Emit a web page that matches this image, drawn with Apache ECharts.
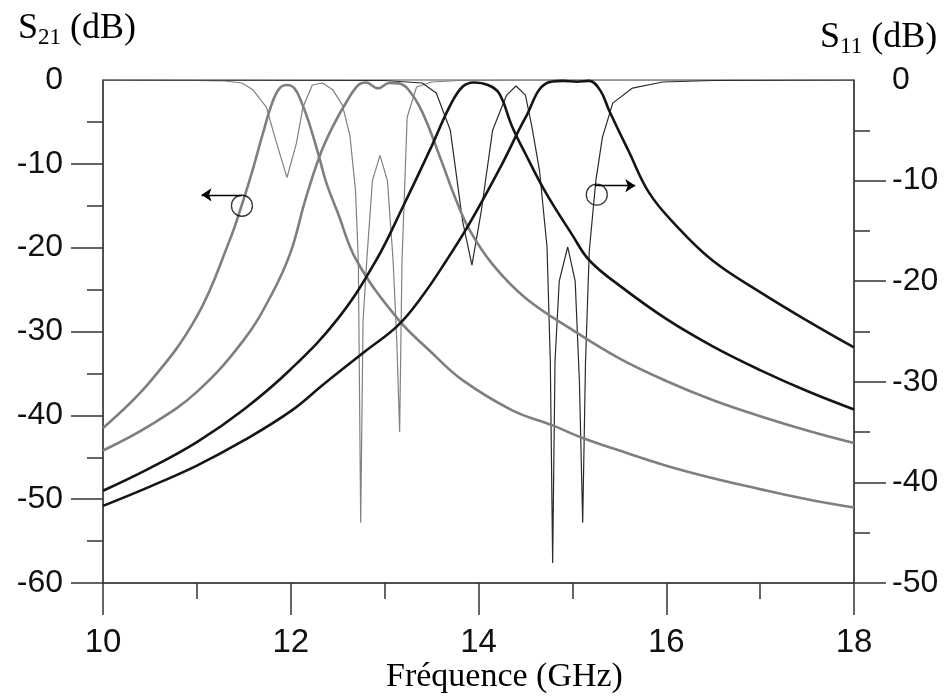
<!DOCTYPE html>
<html>
<head>
<meta charset="utf-8">
<title>S21 / S11</title>
<script src="https://cdn.jsdelivr.net/npm/echarts@6/dist/echarts.min.js"></script>
<style>
  html, body { margin: 0; padding: 0; background: #fff; }
  #chart { width: 946px; height: 698px; }
</style>
</head>
<body>
<div id="chart"></div>
<script>
// canal 1 (gris) - S21
const ch1Freq = [10, 10.5, 11, 11.35, 11.49, 11.6, 11.7, 11.8, 11.88, 11.96, 12.04, 12.12, 12.2, 12.31, 12.38, 12.5, 12.7, 13.14, 13.5, 13.83, 14.36, 14.79, 15.11, 15.5, 16, 16.5, 17, 17.5, 18];
const ch1Db = [-41.5, -36, -28.2, -19.1, -14.5, -10.5, -6.5, -2.8, -1.0, -0.6, -1.0, -2.8, -5.3, -9.5, -12.3, -15.8, -21.5, -28.5, -32.5, -35.8, -39.4, -41.2, -42.7, -44.2, -46, -47.5, -48.8, -50, -51];

// canal 2 (gris) - S21
const ch2Freq = [10, 10.5, 11, 11.5, 11.8, 12.0, 12.15, 12.31, 12.45, 12.6, 12.72, 12.8, 12.93, 13.05, 13.15, 13.25, 13.4, 13.6, 13.75, 13.9, 14.15, 14.5, 15, 15.5, 16, 16.5, 17, 17.5, 18];
const ch2Db = [-44.2, -41.2, -37.2, -31, -25.5, -20.5, -14.5, -9, -5.5, -2.5, -0.6, -0.3, -1.0, -0.35, -0.4, -1.1, -3.8, -9.5, -14, -17.8, -22, -26, -29.8, -33.2, -35.9, -38.2, -40.1, -41.8, -43.3];

// canal 3 (noir) - S21
const ch3Freq = [10, 10.5, 11, 11.5, 12, 12.5, 12.91, 13.2, 13.48, 13.7, 13.83, 13.95, 14.1, 14.22, 14.36, 14.5, 14.72, 15.0, 15.18, 15.5, 16, 16.5, 17, 17.5, 18];
const ch3Db = [-49, -46.3, -43.2, -39.3, -34.5, -28.5, -21.5, -15, -8.4, -3, -0.8, -0.3, -0.6, -1.6, -5.6, -8.8, -13.5, -18.5, -21.5, -24.5, -28.5, -31.8, -34.6, -37.1, -39.3];

// canal 4 (noir) - S21
const ch4Freq = [10, 10.5, 11, 11.5, 12, 12.36, 12.8, 13.14, 13.4, 13.66, 13.9, 14.22, 14.5, 14.72, 14.9, 15.05, 15.18, 15.3, 15.39, 15.6, 15.82, 16.1, 16.49, 17, 17.5, 18];
const ch4Db = [-50.8, -48.5, -46, -43, -39.5, -36.2, -32.3, -29.3, -25.8, -21.5, -17.2, -10.7, -4.5, -0.4, -0.1, -0.2, -0.1, -1.3, -3.6, -8.5, -13.5, -17.3, -21.5, -25.3, -28.7, -31.9];

// S11 (axe de droite)
const s11aFreq = [10, 11.0, 11.3, 11.48, 11.6, 11.74, 11.85, 11.96, 12.06, 12.13, 12.23, 12.34, 12.45, 12.55, 12.63, 12.69, 12.72, 12.745, 12.77, 12.81, 12.87, 12.95, 13.03, 13.09, 13.13, 13.16, 13.185, 13.24, 13.34, 13.5, 13.8, 14.5, 18];
const s11aDb = [0, -0.05, -0.1, -0.3, -1.0, -2.7, -6.3, -9.7, -6.3, -2.7, -0.5, -0.3, -1.0, -2.5, -5.5, -11, -18, -44, -24, -17.9, -10, -7.5, -10, -17.9, -26, -35, -18, -3.7, -0.7, -0.2, -0.05, 0, 0];

const s11bFreq = [10, 13.0, 13.4, 13.55, 13.7, 13.83, 13.93, 14.03, 14.15, 14.3, 14.4, 14.5, 14.57, 14.65, 14.73, 14.765, 14.79, 14.815, 14.86, 14.95, 15.03, 15.075, 15.11, 15.14, 15.18, 15.25, 15.32, 15.43, 15.64, 15.96, 16.5, 18];
const s11bDb = [0, -0.05, -0.3, -1.3, -5, -14, -18.4, -13, -5, -1.5, -0.6, -1.5, -4.7, -9, -16.6, -28, -48, -28, -20, -16.6, -20, -30, -44, -28, -17, -10, -5.7, -2.3, -0.8, -0.2, -0.05, 0];

// repères (cercle + flèche)
const markS21 = [11.48, -15.0];
const arrowS21 = [[11.48, -13.7], [11.05, -13.7]];
const markS11 = [15.26, -11.4];
const arrowS11 = [[15.24, -10.5], [15.67, -10.5]];

const leftTicks = [-10, -20, -30, -40, -50, -60];
const rightTicks = [-10, -20, -30, -40, -50];

function zip(fs, vs) {
  return fs.map((f, i) => [f, vs[i]]);
}

const axisColor = '#333';
const grey = '#7f7f7f';
const black = '#151515';

let myChart = echarts.init(document.getElementById('chart'), null, {renderer: 'canvas'});

function curve(name, fs, vs, color, width, yIdx, smooth) {
  return {
    name: name,
    type: 'line',
    yAxisIndex: yIdx,
    data: zip(fs, vs),
    showSymbol: false,
    smooth: smooth,
    lineStyle: {color: color, width: width},
    silent: true,
    z: width > 2 ? 3 : 2
  };
}

function marker(pt, arrow, yIdx) {
  return {
    type: 'scatter',
    yAxisIndex: yIdx,
    data: [pt],
    symbol: 'circle',
    symbolSize: 21,
    itemStyle: {color: 'rgba(0,0,0,0)', borderColor: '#000', borderWidth: 1.3},
    silent: true,
    z: 5,
    markLine: {
      silent: true,
      symbol: ['none', 'arrow'],
      symbolSize: 10,
      label: {show: false},
      lineStyle: {color: '#000', width: 1.3, type: 'solid'},
      data: [[{coord: arrow[0]}, {coord: arrow[1]}]]
    }
  };
}

const titleRich = {
  s: {fontFamily: 'Liberation Serif', fontSize: 36, fontWeight: 'normal', lineHeight: 40, color: '#000'},
  sub: {fontFamily: 'Liberation Serif', fontSize: 23, fontWeight: 'normal', lineHeight: 16, verticalAlign: 'bottom', color: '#000'}
};

myChart.setOption({
  animation: false,
  backgroundColor: '#fff',
  title: [
    {text: '{s|S}{sub|21}{s| (dB)}', left: 18, top: 9, padding: 0, textStyle: {fontWeight: 'normal', rich: titleRich}},
    {text: '{s|S}{sub|11}{s| (dB)}', left: 820, top: 18, padding: 0, textStyle: {fontWeight: 'normal', rich: titleRich}},
    {text: 'Fréquence (GHz)', left: 386, top: 660, padding: 0,
      textStyle: {fontFamily: 'Liberation Serif', fontSize: 34, fontWeight: 'normal', color: '#000'}}
  ],
  grid: {left: 103, right: 92, top: 80, bottom: 115, show: true, borderColor: '#555', borderWidth: 1, backgroundColor: 'transparent'},
  xAxis: {
    type: 'value', min: 10, max: 18, interval: 2,
    axisLine: {show: true, onZero: false, lineStyle: {color: axisColor, width: 1.5}},
    axisTick: {show: true, length: 32, lineStyle: {color: axisColor, width: 1.5}},
    minorTick: {show: true, splitNumber: 2, length: 16, lineStyle: {color: axisColor, width: 1.5}},
    splitLine: {show: false},
    axisLabel: {margin: 43, fontFamily: 'Liberation Sans', fontSize: 33, color: '#111'}
  },
  yAxis: [
    {
      type: 'value', min: -60, max: 0, interval: 10, position: 'left',
      axisLine: {show: true, onZero: false, lineStyle: {color: axisColor, width: 1.5}},
      axisTick: {show: true, length: 32, customValues: leftTicks, lineStyle: {color: axisColor, width: 1.5}},
      minorTick: {show: true, splitNumber: 2, length: 16, lineStyle: {color: axisColor, width: 1.5}},
      splitLine: {show: false},
      axisLabel: {margin: 40, fontFamily: 'Liberation Sans', fontSize: 32, color: '#111'}
    },
    {
      type: 'value', min: -50, max: 0, interval: 10, position: 'right',
      axisLine: {show: true, onZero: false, lineStyle: {color: axisColor, width: 1.5}},
      axisTick: {show: true, length: 32, customValues: rightTicks, lineStyle: {color: axisColor, width: 1.5}},
      minorTick: {show: true, splitNumber: 2, length: 16, lineStyle: {color: axisColor, width: 1.5}},
      splitLine: {show: false},
      axisLabel: {margin: 38, fontFamily: 'Liberation Sans', fontSize: 32, color: '#111'}
    }
  ],
  series: [
    curve('S11 a', s11aFreq, s11aDb, '#808080', 1.2, 1, false),
    curve('S11 b', s11bFreq, s11bDb, '#2a2a2a', 1.2, 1, false),
    curve('S21 c1', ch1Freq, ch1Db, grey, 2.6, 0, 0.4),
    curve('S21 c2', ch2Freq, ch2Db, grey, 2.6, 0, 0.4),
    curve('S21 c3', ch3Freq, ch3Db, black, 2.6, 0, 0.4),
    curve('S21 c4', ch4Freq, ch4Db, black, 2.6, 0, 0.4),
    marker(markS21, arrowS21, 0),
    marker(markS11, arrowS11, 1)
  ]
});
</script>
</body>
</html>
